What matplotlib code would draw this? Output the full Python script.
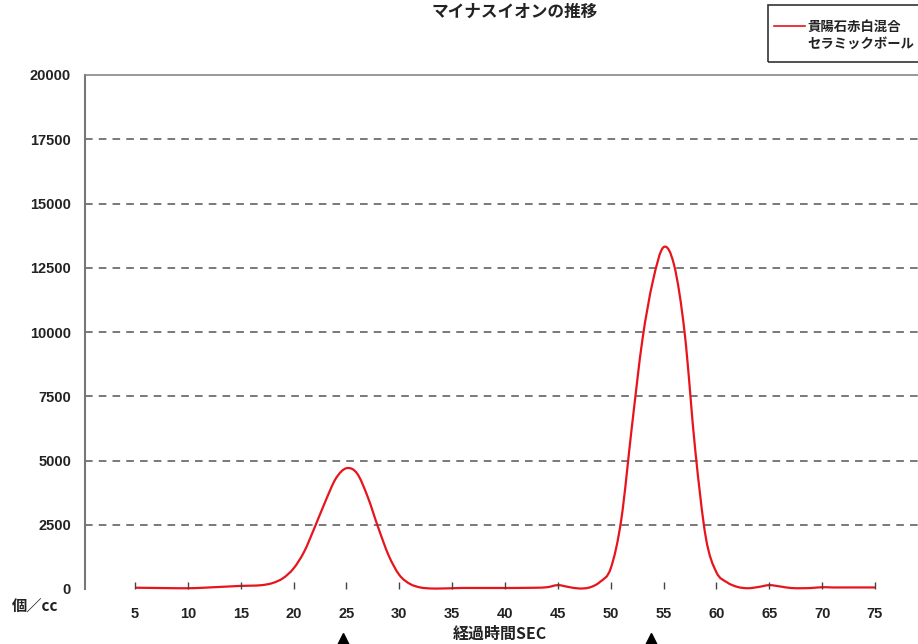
import matplotlib
matplotlib.use("Agg")
import matplotlib.pyplot as plt
import numpy as np
from matplotlib.path import Path
from matplotlib.patches import PathPatch, Rectangle
from matplotlib.lines import Line2D
from matplotlib.transforms import ScaledTranslation

plt.rcParams["font.family"] = ["Noto Sans CJK JP", "DejaVu Sans"]
NUM_FONT = ["Liberation Sans", "DejaVu Sans"]
JP_FONT = ["Noto Sans CJK JP", "DejaVu Sans"]

# data (one reading per second)
seconds = list(range(5, 76))
ions = [
    50, 45, 40, 35, 30, 30, 40, 60, 80, 100,             # 5-14
    120, 130, 150, 230, 420, 800, 1450, 2400, 3400, 4300,  # 15-24
    4700, 4500, 3600, 2400, 1300, 550, 200, 60, 20, 20,    # 25-34
    30, 40, 40, 40, 40, 40, 40, 45, 50, 70,                # 35-44
    150, 80, 20, 60, 280, 800, 2700, 6300, 9700, 12000,    # 45-54
    13300, 12600, 9950, 5400, 2000, 650, 260, 80, 30, 80,  # 55-64
    150, 100, 40, 30, 40, 70, 60, 60, 60, 60, 60,          # 65-75
]
x_ticks = list(range(5, 80, 5))
y_ticks = list(range(0, 20001, 2500))
arrow_marks = [24.7, 53.8]

title = "マイナスイオンの推移"
series_name = "貴陽石赤白混合\nセラミックボール"
x_label = "経過時間SEC"
y_unit = "個／cc"

W, H = 918, 644
fig = plt.figure(figsize=(W / 100, H / 100), dpi=100)
ax = fig.add_axes([85 / W, 1 - 589 / H, 1 - 85 / W, (589 - 75) / H])

ax.set_xlim(0.27, 79.07)
ax.set_ylim(0, 20000)


def smooth_path(xs, ys):
    """Excel-like smoothed line: cubic bezier through every point."""
    xs = np.asarray(xs, float)
    ys = np.asarray(ys, float)
    verts = [(xs[0], ys[0])]
    codes = [Path.MOVETO]
    n = len(xs)
    for i in range(n - 1):
        p0 = (xs[max(i - 1, 0)], ys[max(i - 1, 0)])
        p1 = (xs[i], ys[i])
        p2 = (xs[i + 1], ys[i + 1])
        p3 = (xs[min(i + 2, n - 1)], ys[min(i + 2, n - 1)])
        c1 = (p1[0] + (p2[0] - p0[0]) / 6, p1[1] + (p2[1] - p0[1]) / 6)
        c2 = (p2[0] - (p3[0] - p1[0]) / 6, p2[1] - (p3[1] - p1[1]) / 6)
        verts += [c1, c2, p2]
        codes += [Path.CURVE4] * 3
    return Path(verts, codes)


ax.add_patch(PathPatch(smooth_path(seconds, ions), fill=False,
                       edgecolor="#e8141c", linewidth=1.6, clip_on=False))

# grid
for yv in y_ticks[1:-1]:
    ax.axhline(yv, color="#555555", linestyle=(0, (5, 4)), linewidth=1.1, zorder=0)

# spines
for side in ["bottom", "right"]:
    ax.spines[side].set_visible(False)
ax.spines["left"].set_color("#777777")
ax.spines["top"].set_color("#888888")
ax.spines["left"].set_linewidth(1.5)
ax.spines["top"].set_linewidth(1.2)

ax.set_xticks(x_ticks)
ax.set_xticklabels([str(v) for v in x_ticks], fontsize=10.5, fontweight="bold",
                   family=NUM_FONT, color="#222222")
ax.set_yticks(y_ticks)
ax.set_yticklabels([str(v) for v in y_ticks], fontsize=10.5, fontweight="bold",
                   family=NUM_FONT, color="#222222")
ax.tick_params(axis="x", direction="in", length=5, width=1, color="#444444", pad=13)
ax.tick_params(axis="y", length=0, pad=10)

# arrow markers under the axis
shift = ScaledTranslation(0, -52 / 100, fig.dpi_scale_trans)
for xm in arrow_marks:
    ax.plot([xm], [0], marker="^", markersize=11, color="black",
            transform=ax.transData + shift, clip_on=False)

fig.text(515 / W, 1 - 12 / H, title, ha="center", va="center",
         fontsize=12, fontweight="bold", family=JP_FONT, color="#222222")
fig.text(500 / W, 1 - 634 / H, x_label, ha="center", va="center",
         fontsize=11.5, fontweight="bold", family=JP_FONT, color="#222222")
fig.text(12 / W, 1 - 606 / H, y_unit, ha="left", va="center",
         fontsize=11, fontweight="bold", family=JP_FONT, color="#222222")

# legend box drawn by hand (it runs off the right edge)
fig.patches.append(Rectangle((768 / W, 1 - 62 / H), 200 / W, 57 / H,
                             transform=fig.transFigure, fill=False,
                             edgecolor="#333333", linewidth=1.2))
fig.lines.append(Line2D([774 / W, 805 / W], [1 - 26 / H, 1 - 26 / H],
                        transform=fig.transFigure, color="#e8141c", linewidth=1.2))
fig.text(807 / W, 1 - 35 / H, series_name, ha="left", va="center",
         fontsize=9.6, fontweight="bold", linespacing=1.25,
         family=JP_FONT, color="#222222")

fig.savefig("out.png", dpi=100)
